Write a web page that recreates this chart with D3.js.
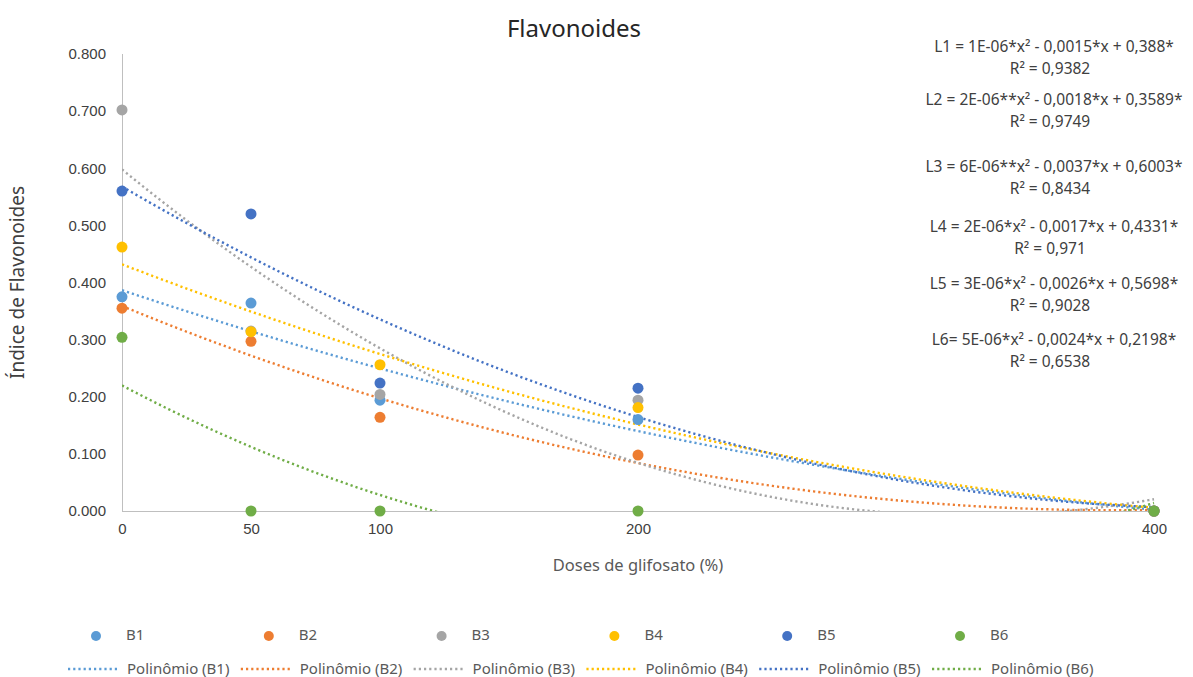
<!DOCTYPE html>
<html>
<head>
<meta charset="utf-8">
<script src="https://cdn.jsdelivr.net/npm/d3@7"></script>
<style>
body { margin: 0; background: #fff; }
svg { font-family: "Noto Sans", "Open Sans", sans-serif; }
.axis text { fill: #404040; font-size: 15px; }
.axis path { stroke: #bfbfbf; }
</style>
</head>
<body>
<svg id="chart" width="1193" height="677"></svg>
<script>
var WIDTH = 1193, HEIGHT = 677;
var doses = [0, 50, 100, 200, 400];
var seriesNames = ["B1", "B2", "B3", "B4", "B5", "B6"];
var B1 = [0.375, 0.364, 0.194, 0.160, 0];
var B2 = [0.355, 0.297, 0.164, 0.098, 0];
var B3 = [0.702, 0.315, 0.204, 0.194, 0];
var B4 = [0.462, 0.314, 0.256, 0.181, 0];
var B5 = [0.560, 0.520, 0.224, 0.215, 0];
var B6 = [0.304, 0, 0, 0, 0];
var colors = ["#5b9bd5", "#ed7d31", "#a5a5a5", "#ffc000", "#4472c4", "#70ad47"];
var yTicks = [0, 0.1, 0.2, 0.3, 0.4, 0.5, 0.6, 0.7, 0.8];
var equations = [
	["L1 = 1E-06*x\u00B2 - 0,0015*x + 0,388*", "R\u00B2 = 0,9382"],
	["L2 = 2E-06**x\u00B2 - 0,0018*x + 0,3589*", "R\u00B2 = 0,9749"],
	["L3 = 6E-06**x\u00B2 - 0,0037*x + 0,6003*", "R\u00B2 = 0,8434"],
	["L4 = 2E-06*x\u00B2 - 0,0017*x + 0,4331*", "R\u00B2 = 0,971"],
	["L5 = 3E-06*x\u00B2 - 0,0026*x + 0,5698*", "R\u00B2 = 0,9028"],
	["L6= 5E-06*x\u00B2 - 0,0024*x + 0,2198*", "R\u00B2 = 0,6538"]
];
var eqY = [47, 100, 167, 227, 284, 340];

var values = [B1, B2, B3, B4, B5, B6];

// least squares quadratic, like the excel trendline
function fitQuad(xs, ys) {
	var s = [0, 0, 0, 0, 0], t = [0, 0, 0];
	xs.forEach((x, i) => {
		for (var k = 0; k < 5; k++) s[k] += Math.pow(x, k);
		for (var k = 0; k < 3; k++) t[k] += Math.pow(x, k) * ys[i];
	});
	var m = [[s[0], s[1], s[2], t[0]], [s[1], s[2], s[3], t[1]], [s[2], s[3], s[4], t[2]]];
	for (var c = 0; c < 3; c++) {
		for (var r = c + 1; r < 3; r++) {
			var f = m[r][c] / m[c][c];
			for (var j = c; j < 4; j++) m[r][j] -= f * m[c][j];
		}
	}
	var b = [0, 0, 0];
	for (var r = 2; r >= 0; r--) {
		var v = m[r][3];
		for (var j = r + 1; j < 3; j++) v -= m[r][j] * b[j];
		b[r] = v / m[r][r];
	}
	return x => b[0] + b[1] * x + b[2] * x * x;
}

var svg = d3.select("#chart");
var pLeft = 122, pRight = 1154, pTop = 54, pBottom = 511;
var x = d3.scaleLinear().domain([0, 400]).range([pLeft, pRight]);
var y = d3.scaleLinear().domain([0, 0.8]).range([pBottom, pTop]);

svg.append("text").attr("x", 574).attr("y", 37).attr("text-anchor", "middle")
	.attr("fill", "#262626").style("font-size", "24px").text("Flavonoides");

svg.append("clipPath").attr("id", "plot").append("rect")
	.attr("x", pLeft).attr("y", pTop - 2).attr("width", pRight - pLeft + 2).attr("height", pBottom - pTop + 2);

var yAxis = svg.append("g").attr("class", "axis").attr("transform", "translate(" + pLeft + ",0)")
	.call(d3.axisLeft(y).tickValues(yTicks).tickFormat(d3.format(".3f")).tickSize(0).tickPadding(16).tickSizeOuter(0));
yAxis.select("path").remove();
svg.append("line").attr("x1", pLeft + 0.5).attr("x2", pLeft + 0.5).attr("y1", pTop).attr("y2", pBottom).attr("stroke", "#bfbfbf");

var xAxis = svg.append("g").attr("class", "axis").attr("transform", "translate(0," + pBottom + ")")
	.call(d3.axisBottom(x).tickValues(doses).tickSize(0).tickPadding(12).tickSizeOuter(0));
xAxis.select("path").attr("d", "M" + pLeft + ",0.5H" + pRight);

svg.append("text").attr("transform", "translate(24," + ((pTop + pBottom) / 2) + ") rotate(-90)")
	.attr("text-anchor", "middle").attr("fill", "#404040").style("font-size", "19px").text("Índice de Flavonoides");
svg.append("text").attr("x", 638).attr("y", 571).attr("text-anchor", "middle")
	.attr("fill", "#595959").style("font-size", "16.5px").text("Doses de glifosato (%)");

// trendlines
var line = d3.line().x(d => x(d[0])).y(d => y(d[1]));
var lines = svg.append("g").attr("clip-path", "url(#plot)");
values.forEach((ys, i) => {
	var f = fitQuad(doses, ys);
	var pts = d3.range(0, 400.1, 2).map(v => [v, f(v)]);
	lines.append("path").attr("d", line(pts)).attr("fill", "none")
		.attr("stroke", colors[i]).attr("stroke-width", 2.4).attr("stroke-dasharray", "2.2,3");
});

// points
values.forEach((ys, i) => {
	svg.append("g").selectAll("circle").data(ys).enter().append("circle")
		.attr("cx", (d, j) => x(doses[j])).attr("cy", d => y(d)).attr("r", 5.5).attr("fill", colors[i]);
});

// equations
equations.forEach((e, i) => {
	var g = svg.append("g").attr("fill", "#404040").style("font-size", "15.5px").attr("text-anchor", "middle");
	g.append("text").attr("x", 1054).attr("y", eqY[i] + 5).text(e[0]);
	g.append("text").attr("x", 1050).attr("y", eqY[i] + 27).text(e[1]);
});

// legend
var step = 172.8;
seriesNames.forEach((name, i) => {
	var g = svg.append("g");
	g.append("circle").attr("cx", 96 + i * step).attr("cy", 636).attr("r", 5).attr("fill", colors[i]);
	g.append("text").attr("x", 126 + i * step).attr("y", 640).attr("fill", "#595959")
		.style("font-size", "15px").text(name);
	g.append("line").attr("x1", 68 + i * step).attr("x2", 120 + i * step).attr("y1", 669).attr("y2", 669)
		.attr("stroke", colors[i]).attr("stroke-width", 2.4).attr("stroke-dasharray", "2.2,3");
	g.append("text").attr("x", 127 + i * step).attr("y", 674).attr("fill", "#595959")
		.style("font-size", "15px").text("Polinômio (" + name + ")");
});
</script>
</body>
</html>
